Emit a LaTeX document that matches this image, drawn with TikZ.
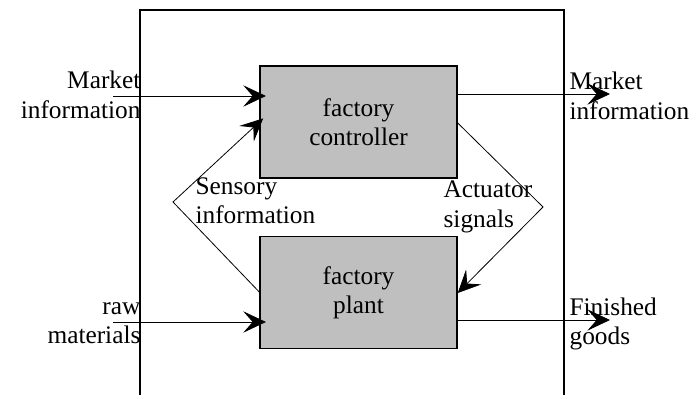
\documentclass[tikz,border=0pt]{standalone}
\usepackage{fontspec}
\setmainfont{Liberation Serif}
\usetikzlibrary{arrows.meta}
\tikzset{
  blockbox/.style={draw, line width=1.1pt, fill=gray!50, minimum width=147.75pt,
    minimum height=84pt, align=center, inner sep=0pt},
  flow/.style={line width=0.6pt, -{Stealth[length=17pt, width=16pt, inset=7pt]}},
  lbl/.style={align=left, inner sep=1pt},
}
\begin{document}
\begin{tikzpicture}[x=0.75pt, y=-0.75pt, font=\fontsize{19}{22}\selectfont]
  \useasboundingbox (0,0) rectangle (700,395);
  %
  \draw[line width=1.1pt] (140,395) -- (140,10) -- (564,10) -- (564,395);   % factory frame
  %
  \node[blockbox] (ctrl)  at (358.5,122) {factory\\controller};
  \node[blockbox] (plant) at (358.5,292.5) {factory\\plant};
  %
  \coordinate (mkin)  at (113,96);
  \coordinate (mkout) at (610,94);
  \coordinate (rawin) at (113,322);
  \coordinate (fgout) at (610,320);
  \coordinate (sbend) at (173,202);
  \coordinate (abend) at (543,207);
  %
  \draw[flow, shorten >=-5pt] (mkin) -- (ctrl.west |- mkin);
  \draw[flow] (ctrl.east |- mkout) -- (mkout);
  \draw[flow, shorten >=-5pt] (rawin) -- (plant.west |- rawin);
  \draw[flow] (plant.east |- fgout) -- (fgout);
  %%
  \draw[flow, shorten >=-4pt] (plant.west |- 0,292) -- (sbend) -- (ctrl.west |- 0,122);
  \draw[flow] (ctrl.east |- 0,123) -- (abend) -- (plant.east |- 0,293);
  %
  \node[lbl, anchor=east, align=right] (mkinlbl) at (142,95) {Market\\information};
  \node[lbl, anchor=west] (mkoutlbl) at (568,96) {Market\\information};
  \node[lbl, anchor=east, align=right] (rawlbl) at (142,323) {raw\\materials};
  \node[lbl, anchor=west] (fglbl) at (568,324) {Finished\\goods};
  \node[lbl, anchor=west] (senslbl) at (194,201) {Sensory\\information};
  \node[lbl, anchor=west] (actlbl) at (442,207) {Actuator\\signals};
\end{tikzpicture}
\end{document}
